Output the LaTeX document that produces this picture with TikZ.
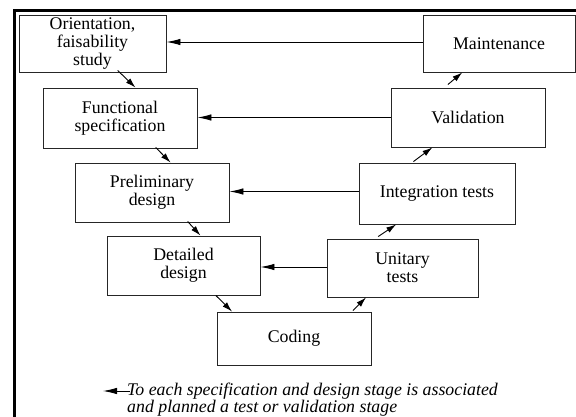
\documentclass[tikz,border=0pt]{standalone}
\usepackage{fontspec}
\setmainfont{Liberation Serif}
\usetikzlibrary{arrows.meta,calc}
\begin{document}
\begin{tikzpicture}[x=1pt,y=-1pt,
  stage/.style={draw=black!85,line width=0.9pt,rectangle,inner sep=0pt,align=center,
    font=\fontsize{17.8}{18}\selectfont},
  flow/.style={line width=0.9pt,-{Latex[length=10pt,width=6pt]}},
  back/.style={line width=0.9pt,-{Latex[length=14pt,width=6.5pt]}},
  frame/.style={line width=2.6pt}]
\useasboundingbox (0,0) rectangle (576,417);
% frame
\coordinate (fTL) at (14.5,10.5);
\coordinate (fTR) at (576,10.5);
\coordinate (fBL) at (14.5,417);
\draw[frame] (fBL) -- (fTL) -- (fTR);
% stages
\node[stage,minimum width=147pt,minimum height=57pt] (ori) at (92.5,43.5) {Orientation,\\faisability\\study};
\node[stage,minimum width=154pt,minimum height=60pt] (fun) at (120,118) {Functional\\specification};
\node[stage,minimum width=154pt,minimum height=59pt] (pre) at (152,192.5) {Preliminary\\design};
\node[stage,minimum width=153pt,minimum height=59pt] (det) at (183.5,265.5) {Detailed\\design};
\node[stage,minimum width=154pt,minimum height=53pt] (cod) at (294,338.5) {Coding};
\node[stage,minimum width=151pt,minimum height=58pt] (uni) at (402.5,268) {Unitary\\tests};
\node[stage,minimum width=156pt,minimum height=61pt] (int) at (437,193.5) {Integration tests};
\node[stage,minimum width=154pt,minimum height=59pt] (val) at (468,117.5) {Validation};
\node[stage,minimum width=152pt,minimum height=57pt] (mai) at (499,43.5) {Maintenance};
% back arrows
\draw[back] ($(mai.west)+(0,-1.5)$) -- ($(mai.west -| ori.east)+(0,-1.5)$);
\draw[back] (val.west) -- (val.west -| fun.east);
\draw[back] ($(int.west)+(0,-2)$) -- ($(int.west -| pre.east)+(0,-2)$);
\draw[back] ($(uni.west)+(0,-1)$) -- ($(uni.west -| det.east)+(0,-1)$);
% descending flow
\draw[flow] ($(ori.south west)!0.67!(ori.south east)+(0,-2)$) -- ($(fun.north west)!0.6!(fun.north east)$);
\draw[flow] ($(fun.south west)!0.73!(fun.south east)+(0,-1)$) -- ($(pre.north west)!0.62!(pre.north east)$);
\draw[flow] ($(pre.south west)!0.73!(pre.south east)+(0,-1)$) -- ($(det.north west)!0.61!(det.north east)$);
\draw[flow] ($(det.south west)!0.71!(det.south east)$) -- ($(cod.north west)!0.10!(cod.north east)$);
% ascending flow
\draw[flow] ($(cod.north west)!0.88!(cod.north east)+(0,-1)$) -- ($(uni.south west)!0.26!(uni.south east)$);
\draw[flow] ($(uni.north west)!0.34!(uni.north east)+(0,-2)$) -- ($(int.south west)!0.24!(int.south east)$);
\draw[flow] ($(int.north west)!0.35!(int.north east)+(0,-1)$) -- ($(val.south west)!0.27!(val.south east)$);
\draw[flow] ($(val.north west)!0.37!(val.north east)+(0,-3)$) -- ($(mai.south west)!0.26!(mai.south east)$);
% legend
\coordinate (legA) at (130,391);
\coordinate (legB) at (103,391);
\draw[back] (legA) -- (legB);
\node[anchor=base west,align=left,inner sep=0pt,font=\fontsize{17.8}{17}\selectfont\itshape] (leg) at (127,412)
  {To each specification and design stage is associated\\and planned a test or validation stage};
\end{tikzpicture}
\end{document}
